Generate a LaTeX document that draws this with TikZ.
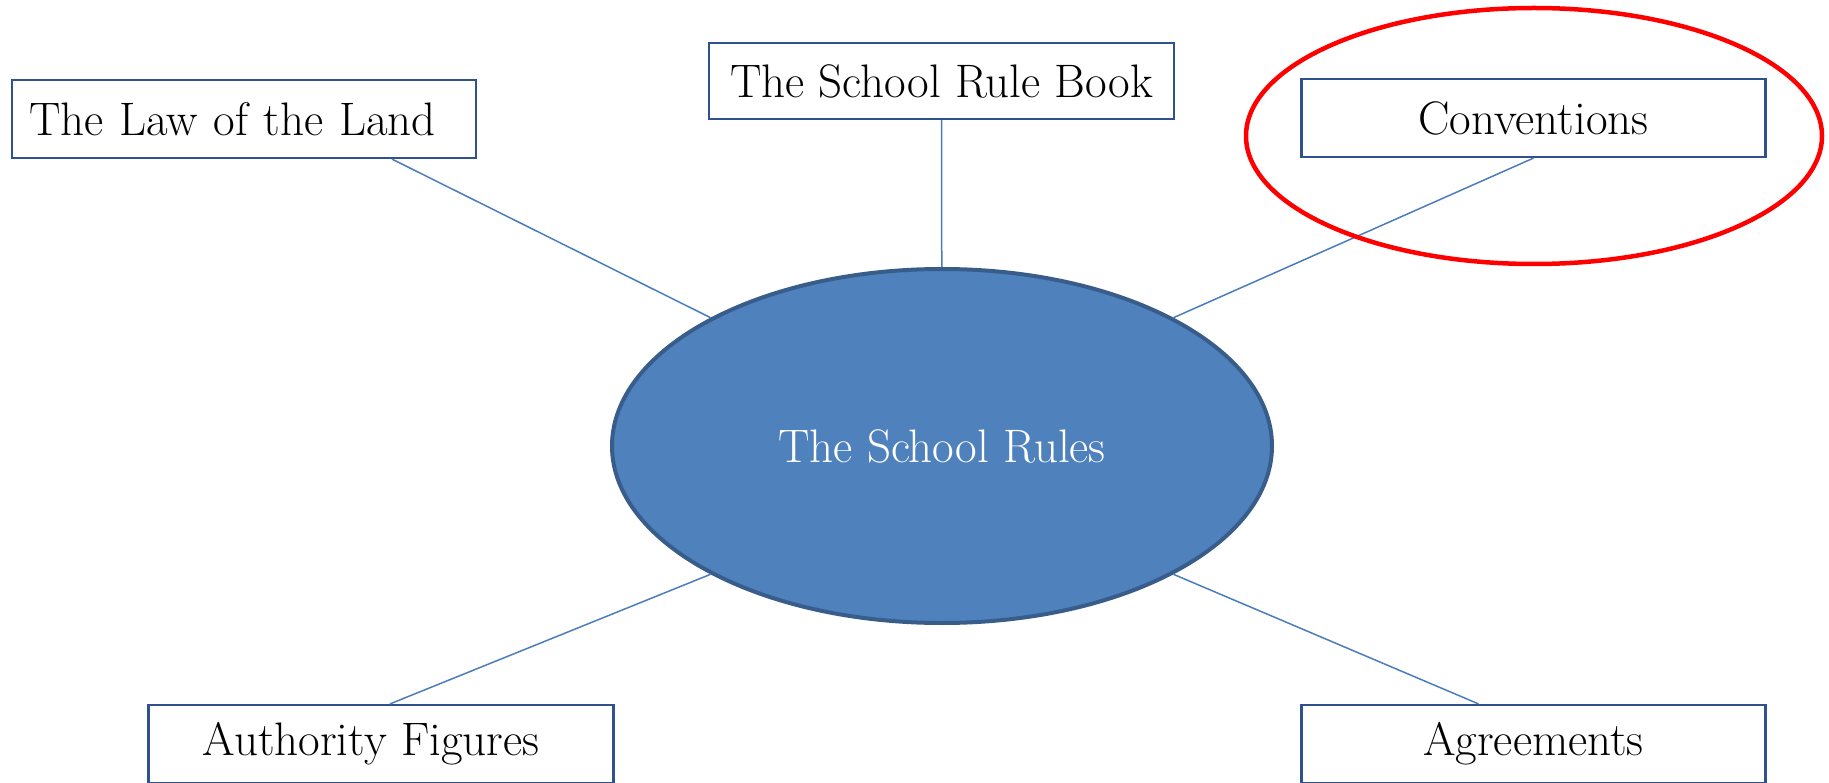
\documentclass[tikz,border=0pt]{standalone}
\usepackage{xcolor}
\usepackage{tikz}
\usetikzlibrary{shapes.geometric}

\definecolor{hubfill}{RGB}{79,129,189}
\definecolor{hubline}{RGB}{56,93,138}
\definecolor{boxline}{RGB}{47,82,143}
\definecolor{linkline}{RGB}{74,126,187}

\begin{document}
\begin{tikzpicture}[x=1pt, y=-1pt,
    topic/.style={draw=boxline, line width=2.2pt, fill=white, minimum width=464pt,
      minimum height=78pt, inner sep=0pt, font=\fontsize{47}{54}\selectfont},
    hub/.style={ellipse, draw=hubline, line width=4pt, fill=hubfill, text=white,
      minimum width=660pt, minimum height=354pt, font=\fontsize{47}{54}\selectfont},
    link/.style={draw=linkline, line width=1.5pt},
    highlight/.style={draw=red, line width=4.5pt}]
  \useasboundingbox (0,0) rectangle (1829,783);

  \node[hub] (rules) at (942,446) {The School Rules};

  \node[topic, text width=440pt, align=left, inner xsep=12pt] (law) at (244,119) {\hspace*{5pt}The Law of the Land};
  \node[topic, minimum width=465pt, minimum height=76pt] (book) at (941.5,81) {The School Rule Book};
  \node[topic] (conv) at (1533.5,118) {Conventions};
  \node[topic, minimum width=465pt] (auth) at (381,744) {Authority Figures\hspace*{20pt}};
  \node[topic] (agree) at (1533.5,744) {Agreements};

  \draw[link] ([xshift=148pt]law.south) -- (rules.151);
  \draw[link] (book) -- (rules);
  \draw[link] (conv.south) -- (rules.29);
  \draw[link] ([xshift=9pt]auth.north) -- (rules.209);
  \draw[link] ([xshift=-55pt]agree.north) -- (rules.331);

  \draw[highlight] (1534,136) ellipse [x radius=288, y radius=128];
\end{tikzpicture}
\end{document}
